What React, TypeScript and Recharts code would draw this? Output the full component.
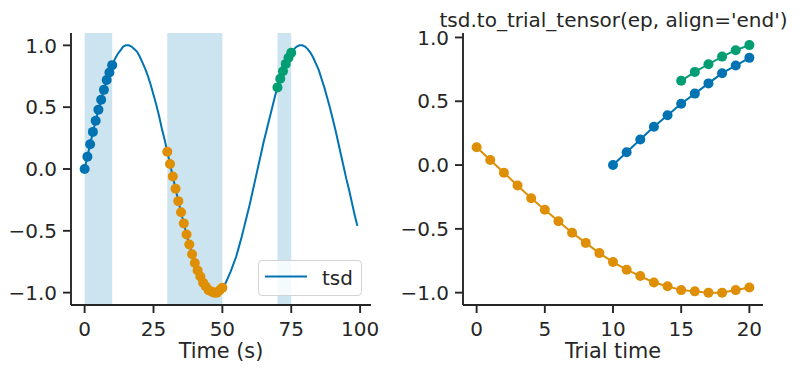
import { ComposedChart, Line, XAxis, YAxis, ReferenceArea } from 'recharts';

// tsd sampled every 1 s, t = 0..99
const tsdValues = [
  0.0, 0.1, 0.2, 0.3, 0.39, 0.48, 0.56, 0.64, 0.72, 0.78,
  0.84, 0.89, 0.93, 0.96, 0.99, 1.0, 1.0, 0.99, 0.97, 0.95,
  0.91, 0.86, 0.81, 0.75, 0.68, 0.6, 0.52, 0.43, 0.33, 0.24,
  0.14, 0.04, -0.06, -0.16, -0.26, -0.35, -0.44, -0.53, -0.61, -0.69,
  -0.76, -0.82, -0.87, -0.92, -0.95, -0.98, -0.99, -1.0, -1.0, -0.98,
  -0.96, -0.93, -0.88, -0.83, -0.77, -0.71, -0.63, -0.55, -0.46, -0.37,
  -0.28, -0.18, -0.08, 0.02, 0.12, 0.22, 0.31, 0.4, 0.49, 0.58,
  0.66, 0.73, 0.79, 0.85, 0.9, 0.94, 0.97, 0.99, 1.0, 1.0,
  0.99, 0.97, 0.94, 0.9, 0.85, 0.8, 0.73, 0.66, 0.58, 0.5,
  0.41, 0.32, 0.22, 0.12, 0.02, -0.08, -0.17, -0.27, -0.37, -0.46,
];

const epochStarts = [0, 30, 70];
const epochEnds = [10, 50, 75];
const epochColors = ['#0173b2', '#de8f05', '#029e73'];

const timeTicks = [0, 25, 50, 75, 100];
const trialTicks = [0, 5, 10, 15, 20];
const valueTicks = [-1, -0.5, 0, 0.5, 1];

const INK = '#262626';
const FONT = '"DejaVu Sans", sans-serif';
const TICK_FS = 20;
const LABEL_FS = 20.8;
const TITLE_FS = 20;

const tsdData = tsdValues.map((v, i) => ({ t: i, v }));
const epochData = epochStarts.map((s, k) => tsdData.slice(s, epochEnds[k] + 1));
const trialLen = Math.max(...epochStarts.map((s, k) => epochEnds[k] - s)) + 1;
// align='end': last sample of each epoch sits on the last trial bin
const trialData = epochData.map((pts, k) =>
  pts.map((p) => ({ t: trialLen - 1 - (epochEnds[k] - p.t), v: p.v }))
);

const fmtValue = (v: number) => (v < 0 ? '\u2212' : '') + Math.abs(v).toFixed(1);

const XTick = (props: any) => (
  <text x={props.x} y={props.y + 20.5} textAnchor="middle" fontSize={TICK_FS} fontFamily={FONT} fill={INK}>
    {props.payload.value}
  </text>
);

const YTick = (props: any) => (
  <text x={props.x} y={props.y + 7.2} textAnchor="end" fontSize={TICK_FS} fontFamily={FONT} fill={INK}>
    {fmtValue(props.payload.value)}
  </text>
);

const axisLine = { stroke: INK, strokeWidth: 1.9 };
const tickLine = { stroke: INK, strokeWidth: 1.9 };

const xLabel = (text: string) => (p: any) => {
  const vb = p.viewBox;
  return (
    <text x={vb.x + vb.width / 2} y={358} textAnchor="middle" fontSize={LABEL_FS} fontFamily={FONT} fill={INK}>
      {text}
    </text>
  );
};

export default function App() {
  return (
    <div style={{ position: 'absolute', left: 0, top: 0, width: 812, height: 373, background: '#fff' }}>
      <div style={{ position: 'absolute', left: 0, top: 0 }}>
        <ComposedChart width={400} height={373} margin={{ top: 33, right: 29, bottom: 0, left: 0 }}>
          <XAxis
            type="number"
            dataKey="t"
            domain={[-4.95, 103.95]}
            ticks={timeTicks}
            allowDataOverflow
            height={68}
            tickSize={8}
            tickMargin={2}
            axisLine={axisLine}
            tickLine={tickLine}
            tick={<XTick />}
            label={xLabel('Time (s)')}
          />
          <YAxis
            type="number"
            domain={[-1.1, 1.1]}
            ticks={valueTicks}
            allowDataOverflow
            width={71}
            tickSize={8}
            tickMargin={6}
            axisLine={axisLine}
            tickLine={tickLine}
            tick={<YTick />}
          />
          {epochStarts.map((s, k) => (
            <ReferenceArea key={`ep-${k}`} x1={s} x2={epochEnds[k]} y1={-1.1} y2={1.1} fill="#cce3f0" fillOpacity={1} stroke="none" />
          ))}
          <Line data={tsdData} dataKey="v" type="linear" stroke="#0173b2" strokeWidth={2} dot={false} activeDot={false} isAnimationActive={false} />
          {epochData.map((pts, k) => (
            <Line
              key={`pts-${k}`}
              data={pts}
              dataKey="v"
              stroke="none"
              dot={{ r: 5, fill: epochColors[k], stroke: 'none' }}
              activeDot={false}
              isAnimationActive={false}
            />
          ))}
        </ComposedChart>
      </div>

      <div
        style={{
          position: 'absolute',
          left: 258,
          top: 260,
          width: 102,
          height: 34,
          border: '1px solid #d4d4d4',
          borderRadius: 4,
          background: 'rgba(255,255,255,0.8)',
        }}
      >
        <svg width={102} height={34} style={{ position: 'absolute', left: 0, top: 0 }}>
          <line x1={6} x2={48} y1={15.5} y2={15.5} stroke="#0173b2" strokeWidth={2} />
          <text x={63} y={24} fontSize={TICK_FS} fontFamily={FONT} fill={INK}>tsd</text>
        </svg>
      </div>

      <div style={{ position: 'absolute', left: 400, top: 0 }}>
        <ComposedChart width={412} height={373} margin={{ top: 33, right: 49, bottom: 0, left: 0 }}>
          <XAxis
            type="number"
            dataKey="t"
            domain={[-1, 21]}
            ticks={trialTicks}
            allowDataOverflow
            height={68}
            tickSize={8}
            tickMargin={2}
            axisLine={axisLine}
            tickLine={tickLine}
            tick={<XTick />}
            label={xLabel('Trial time')}
          />
          <YAxis
            type="number"
            domain={[-1.0968, 1.0349]}
            ticks={valueTicks}
            allowDataOverflow
            width={63}
            tickSize={8}
            tickMargin={6}
            axisLine={axisLine}
            tickLine={tickLine}
            tick={<YTick />}
          />
          {trialData.map((pts, k) => (
            <Line
              key={`trial-${k}`}
              data={pts}
              dataKey="v"
              type="linear"
              stroke={epochColors[k]}
              strokeWidth={2}
              dot={{ r: 5, fill: epochColors[k], stroke: 'none' }}
              activeDot={false}
              isAnimationActive={false}
            />
          ))}
        </ComposedChart>
      </div>

      <svg width={812} height={40} style={{ position: 'absolute', left: 0, top: 0, pointerEvents: 'none' }}>
        <text x={613.5} y={27} textAnchor="middle" fontSize={TITLE_FS} fontFamily={FONT} fill={INK}>
          tsd.to_trial_tensor(ep, align='end')
        </text>
      </svg>
    </div>
  );
}
